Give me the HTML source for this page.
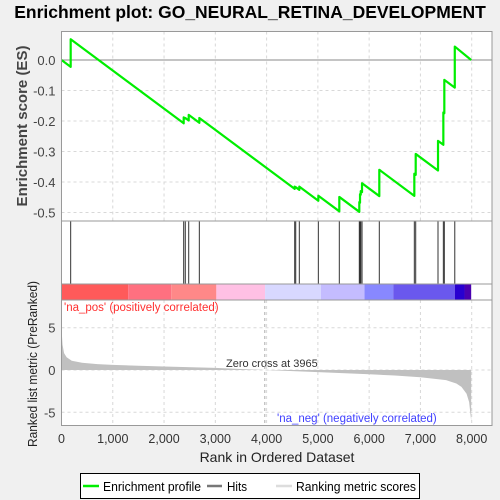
<!DOCTYPE html>
<html><head><meta charset="utf-8"><style>
html,body{margin:0;padding:0;background:#f0f0f0;}
svg{display:block;font-family:"Liberation Sans",sans-serif;}
</style></head><body>
<svg id="chart" width="500" height="500" viewBox="0 0 500 500">
<rect x="0" y="0" width="500" height="500" fill="#f0f0f0"/>
<text x="250" y="18" text-anchor="middle" font-size="17.5" font-weight="bold" fill="#000">Enrichment plot: GO_NEURAL_RETINA_DEVELOPMENT</text>
<g id="panels"></g>
</svg>
<script>
const hitRanks = [179,2383,2414,2481,2688,4548,4568,4638,5009,5418,5808,5822,5836,5861,6198,6881,6908,7343,7447,7466,7670];
const esAfterHit = [0.068,-0.188,-0.19,-0.18,-0.19,-0.415,-0.417,-0.415,-0.445,-0.449,-0.466,-0.44,-0.43,-0.404,-0.36,-0.373,-0.308,-0.265,-0.172,-0.065,0.044];
const missStep = 0.000125;
const totalRanks = 7990;
const metricRanks = [0,20,50,100,200,400,700,1000,1500,2000,3000,3965,5000,6000,6500,7000,7500,7700,7800,7900,7950,7990];
const metricValues = [5,3,2,1.5,1.1,0.85,0.7,0.6,0.5,0.42,0.25,0,-0.25,-0.5,-0.65,-0.85,-1.2,-1.6,-2.0,-2.8,-3.8,-6];
const xTicks = [0,1000,2000,3000,4000,5000,6000,7000,8000];
const xTickLabels = ["0","1,000","2,000","3,000","4,000","5,000","6,000","7,000","8,000"];
const esTicks = [0,-0.1,-0.2,-0.3,-0.4,-0.5];
const esTickLabels = ["0.0","-0.1","-0.2","-0.3","-0.4","-0.5"];
const metricTicks = [5,0,-5];
const metricTickLabels = ["5","0","-5"];
const barEnds = [1300,2140,3020,3970,5060,5910,6470,7670,7860,7990];
const barColors = ["#ff5a5a","#ff7080","#ff8888","#ffc0e4","#d8d8ff","#c4bcff","#8888ff","#6a58ee","#2800d0","#4a00b0"];

const NS="http://www.w3.org/2000/svg";
const L=61.5,R=492,T=31.5,B=221,H2=284,CB=300,BB=425.5;
const xs=r=>L+r*(410.2/8000);
const yes=v=>60-v*305;
const ym=v=>370-v*(42.3/5);
const g=document.getElementById('panels');
function el(tag,attrs,parent){const e=document.createElementNS(NS,tag);for(const k in attrs)e.setAttribute(k,attrs[k]);(parent||g).appendChild(e);return e;}

let e;
e=el('rect',{x:L,y:T,width:R-L,height:BB-T,fill:'#fff'});



xTicks.forEach(t=>{
  [[T,B],[CB,BB]].forEach(([a,b])=>{
    e=el('line',{x1:xs(t),x2:xs(t),y1:a,y2:b,stroke:'#d8d8d8','stroke-dasharray':'3,3','stroke-width':1});
    
    
  });
});
esTicks.forEach((t,i)=>{
  e=el('line',{x1:L,x2:R,y1:yes(t),y2:yes(t),stroke:t===0?'#888':'#d8d8d8','stroke-dasharray':t===0?'':'3,3','stroke-width':1});
  
  
  e=el('text',{x:L-6,y:yes(t)+5,'text-anchor':'end','font-size':13,fill:'#444'});
  e.textContent=esTickLabels[i];
  
  
});
metricTicks.forEach((t,i)=>{
  e=el('line',{x1:L,x2:R,y1:ym(t),y2:ym(t),stroke:'#d8d8d8','stroke-dasharray':'3,3','stroke-width':1});
  
  
  e=el('text',{x:L-6,y:ym(t)+5,'text-anchor':'end','font-size':13,fill:'#444'});
  e.textContent=metricTickLabels[i];
  
  
});

let prev=0;
barEnds.forEach((end,i)=>{
  e=el('rect',{x:xs(prev),y:H2,width:xs(end)-xs(prev),height:CB-H2,fill:barColors[i]});
  
  
  prev=end;
});

hitRanks.forEach(r=>{
  e=el('line',{x1:xs(r),x2:xs(r),y1:B,y2:H2,stroke:'#333','stroke-width':1});
  
  
});

let d='M'+xs(metricRanks[0])+','+ym(0);
metricRanks.forEach((r,i)=>{d+=' L'+xs(r)+','+ym(metricValues[i]);});
d+=' L'+xs(metricRanks[metricRanks.length-1])+','+ym(0)+' Z';
e=el('path',{d:d,fill:'#c0c0c0',stroke:'none'});



let pts=[[0,0]];let last=0,lastV=0;
hitRanks.forEach((r,i)=>{
  const before=lastV-missStep*(r-last);
  pts.push([r,before]);pts.push([r,esAfterHit[i]]);
  last=r;lastV=esAfterHit[i];
});
pts.push([totalRanks,0]);
e=el('polyline',{points:pts.map(p=>xs(p[0])+','+yes(p[1])).join(' '),fill:'none',stroke:'#00ee00','stroke-width':2.2,'stroke-linejoin':'round'});



[[T,B],[B,H2],[H2,CB],[CB,BB]].forEach(([a,b])=>{
  e=el('rect',{x:L,y:a,width:R-L,height:b-a,fill:'none',stroke:'#999','stroke-width':1});
  
  
});

xTicks.forEach((t,i)=>{
  e=el('text',{x:xs(t),y:443,'text-anchor':'middle','font-size':12.5,fill:'#333'});
  e.textContent=xTickLabels[i];
  
  
});

function txt(s,attrs,name){e=el('text',attrs);e.textContent=s;return e;}
txt('Rank in Ordered Dataset',{x:277,y:462,'text-anchor':'middle','font-size':14,fill:'#222'},'x-axis-title');
txt('Enrichment score (ES)',{x:0,y:0,'text-anchor':'middle','font-size':15,'font-weight':'bold',fill:'#444',transform:'translate(27,126) rotate(-90)'},'es-axis-title');
txt('Ranked list metric (PreRanked)',{x:0,y:0,'text-anchor':'middle','font-size':13,fill:'#222',textLength:166,lengthAdjust:'spacingAndGlyphs',transform:'translate(37,364) rotate(-90)'},'metric-axis-title');
txt("'na_pos' (positively correlated)",{x:64,y:311,'font-size':11.5,fill:'#ff3030'},'na-pos-label');
txt("'na_neg' (negatively correlated)",{x:277,y:422,'font-size':11.5,fill:'#4040ff'},'na-neg-label');
txt('Zero cross at 3965',{x:226,y:367,'font-size':11,fill:'#333'},'zero-cross-label');
e=el('line',{x1:xs(3965),x2:xs(3965),y1:CB,y2:BB,stroke:'#aaa','stroke-dasharray':'3,3'});



e=el('rect',{x:80.5,y:473.5,width:339,height:25,fill:'#fff',stroke:'#000','stroke-width':1});


e=el('line',{x1:83,x2:99,y1:486,y2:486,stroke:'#00ee00','stroke-width':2.5});


txt('Enrichment profile',{x:103,y:491,'font-size':13,fill:'#000',textLength:98,lengthAdjust:'spacingAndGlyphs'},'legend-enrichment-profile');
e=el('line',{x1:207,x2:222,y1:486,y2:486,stroke:'#777','stroke-width':2.5});


txt('Hits',{x:227,y:491,'font-size':13,fill:'#000',textLength:20,lengthAdjust:'spacingAndGlyphs'},'legend-hits');
e=el('line',{x1:276,x2:292,y1:486,y2:486,stroke:'#ddd','stroke-width':2.5});


txt('Ranking metric scores',{x:296,y:491,'font-size':13,fill:'#000',textLength:120,lengthAdjust:'spacingAndGlyphs'},'legend-ranking-metric-scores');
</script>
</body></html>
